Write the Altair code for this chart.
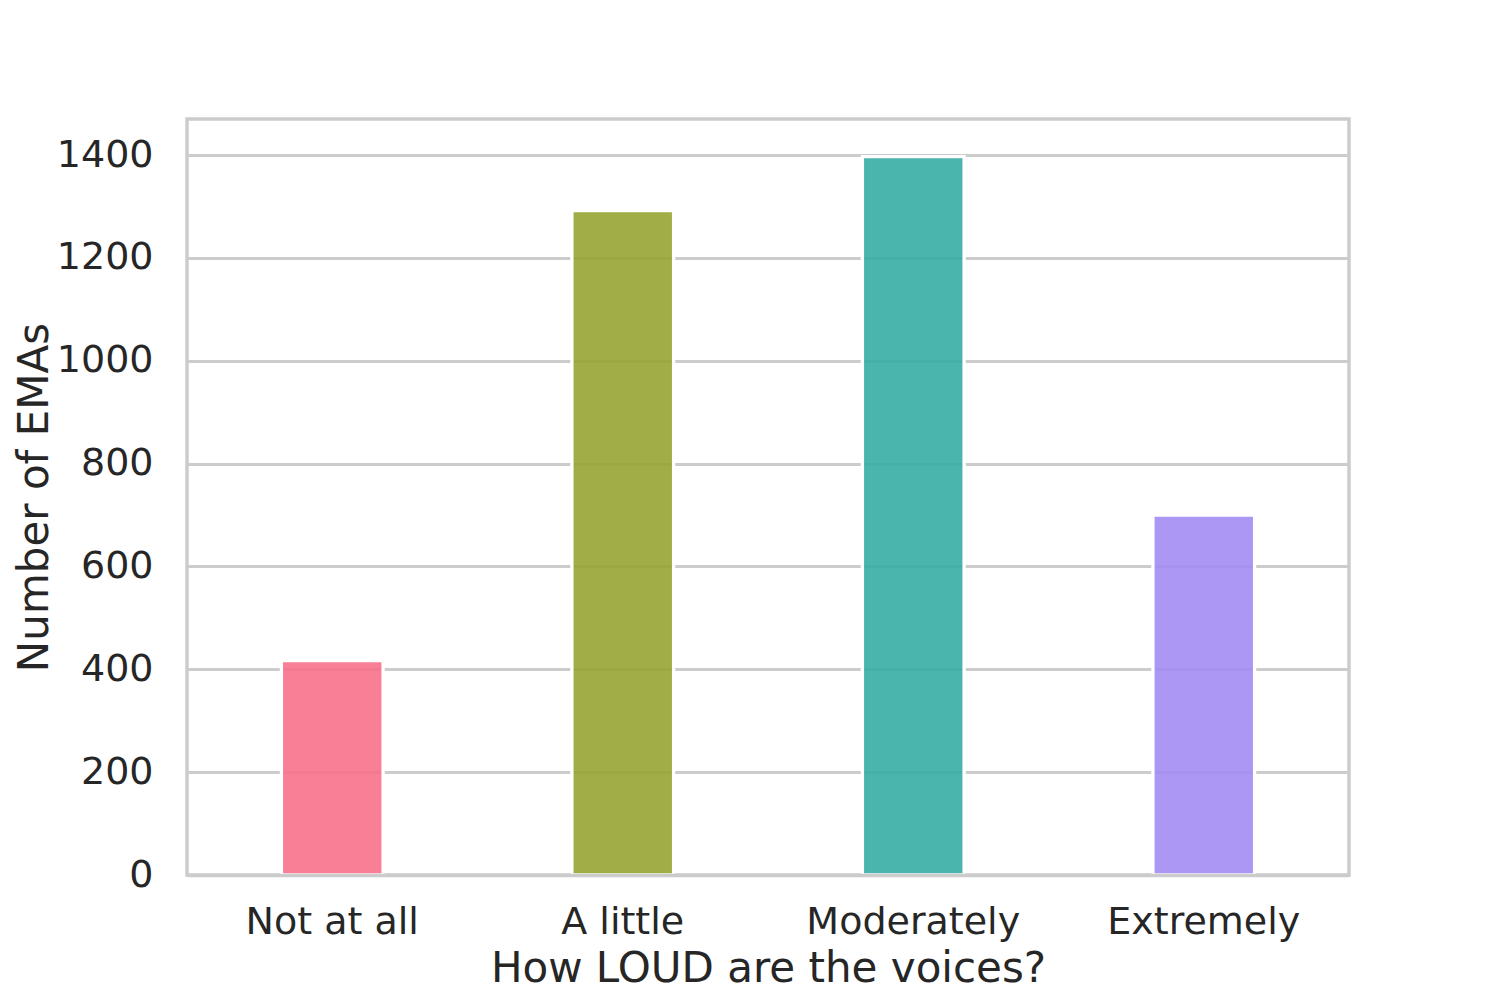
import altair as alt
import pandas as pd

categories = ["Not at all", "A little", "Moderately", "Extremely"]
counts = [417, 1292, 1397, 700]
colors = ["#f77189", "#97a431", "#36ada4", "#a48cf4"]
y_ticks = [0, 200, 400, 600, 800, 1000, 1200, 1400]

df = pd.DataFrame({"level": categories, "count": counts})

FONT = "DejaVu Sans"
TXT = "#262626"
GRID = "#cccccc"

chart = (
    alt.Chart(df)
    .mark_bar(fillOpacity=0.9, stroke="white", strokeWidth=3.3)
    .encode(
        x=alt.X(
            "level:N",
            sort=categories,
            title="How LOUD are the voices?",
            scale=alt.Scale(paddingInner=0.65, paddingOuter=0.325),
            axis=alt.Axis(
                labelAngle=0,
                labelFontSize=38,
                labelPadding=28,
                labelLimit=0,
                ticks=False,
                tickSize=0,
                domain=True,
                domainColor=GRID,
                domainWidth=3.5,
                zindex=1,
                grid=False,
                titleFontSize=42,
                titleFontWeight="normal",
                titleBaseline="alphabetic",
                titleY=106,
            ),
        ),
        y=alt.Y(
            "count:Q",
            title="Number of EMAs",
            scale=alt.Scale(domain=[0, 1470], nice=False),
            axis=alt.Axis(
                values=y_ticks,
                format="d",
                labelFontSize=38,
                labelPadding=34,
                labelLimit=0,
                ticks=False,
                tickSize=0,
                domain=False,
                grid=True,
                gridColor=GRID,
                gridWidth=2.8,
                titleFontSize=42,
                titleFontWeight="normal",
                titleBaseline="alphabetic",
                titleX=-140,
            ),
        ),
        color=alt.Color(
            "level:N",
            sort=categories,
            scale=alt.Scale(domain=categories, range=colors),
            legend=None,
        ),
    )
    .properties(
        width=1162,
        height=756,
        padding={"left": 179, "top": 111, "right": 143, "bottom": 117},
        autosize=alt.AutoSizeParams(type="none"),
    )
    .configure(font=FONT)
    .configure_axis(
        labelFont=FONT,
        titleFont=FONT,
        labelColor=TXT,
        titleColor=TXT,
    )
    .configure_view(stroke=GRID, strokeWidth=3.5)
)

chart.save("out.html", embed_options={"renderer": "svg", "actions": False})
